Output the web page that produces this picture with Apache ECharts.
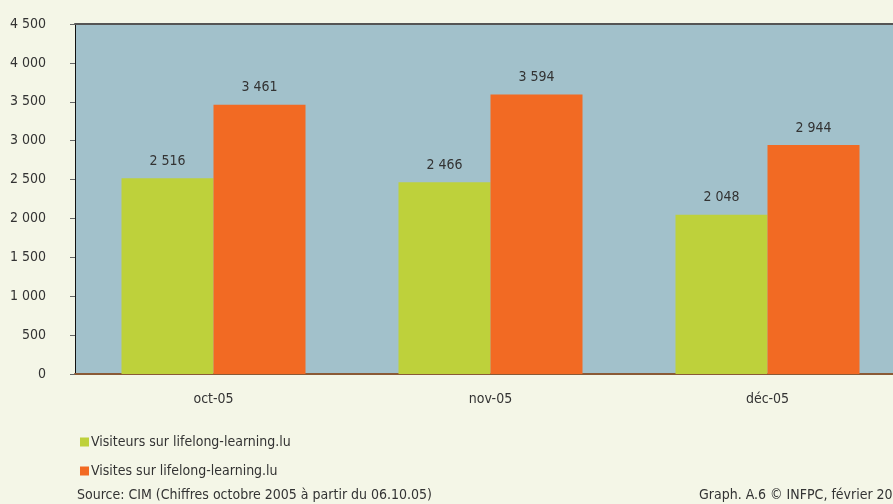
<!DOCTYPE html>
<html><head><meta charset="utf-8">
<script src="https://cdn.jsdelivr.net/npm/echarts@6/dist/echarts.min.js"></script>
<style>html,body{margin:0;padding:0;background:#f4f6e7;width:893px;height:504px;overflow:hidden;}#c{width:906px;height:504px;}</style>
</head><body><div id="c"></div>
<script>
const categories = ['oct-05', 'nov-05', 'déc-05'];
const visiteurs = [2516, 2466, 2048];
const visites = [3461, 3594, 2944];
const seriesNames = ['Visiteurs sur lifelong-learning.lu', 'Visites sur lifelong-learning.lu'];
const yTicks = [0, 500, 1000, 1500, 2000, 2500, 3000, 3500, 4000, 4500];
const sourceText = 'Source: CIM (Chiffres octobre 2005 à partir du 06.10.05)';
const creditText = 'Graph. A.6 © INFPC, février 2006';

const FONT = '"Liberation Sans Narrow", "DejaVu Sans Condensed", "Liberation Sans", sans-serif';
const fmt = v => String(v).replace(/\B(?=(\d{3})+(?!\d))/g, ' ');

const chart = echarts.init(document.getElementById('c'));
chart.setOption({
  backgroundColor: '#f4f6e7',
  animation: false,
  textStyle: { fontFamily: FONT },
  grid: { left: 75, top: 24, right: 0, bottom: 130, show: true, backgroundColor: '#a2c1cb', borderWidth: 0 },
  legend: {
    orient: 'vertical', left: 75, top: 430, itemGap: 15, itemWidth: 9, itemHeight: 9,
    icon: 'rect', textStyle: { fontFamily: FONT, fontSize: 14, color: '#333', padding: [0, 0, 0, -3] },
    data: seriesNames
  },
  xAxis: [{
    type: 'category', data: categories,
    axisLine: { lineStyle: { color: '#8a5a36', width: 2 } },
    axisTick: { show: false },
    axisLabel: { fontFamily: FONT, fontSize: 14, color: '#333', margin: 18 }
  }, {
    type: 'category', position: 'top', data: categories,
    axisLine: { lineStyle: { color: '#555', width: 2 } },
    axisTick: { show: false }, axisLabel: { show: false }
  }],
  yAxis: {
    type: 'value', min: yTicks[0], max: yTicks[yTicks.length - 1], interval: 500,
    axisLine: { show: true, lineStyle: { color: '#111', width: 1 } },
    axisTick: { show: true, length: 5, lineStyle: { color: '#666' } },
    splitLine: { show: false },
    axisLabel: { fontFamily: FONT, fontSize: 14, color: '#333', margin: 29, formatter: v => fmt(v) }
  },
  series: [{
    name: seriesNames[0], type: 'bar', data: visiteurs, barWidth: 92, barGap: '0%',
    itemStyle: { color: '#bed13b' },
    label: { show: true, position: 'top', distance: 10, fontFamily: FONT, fontSize: 14, color: '#333', formatter: p => fmt(p.value) }
  }, {
    name: seriesNames[1], type: 'bar', data: visites, barWidth: 92,
    itemStyle: { color: '#f26a23' },
    label: { show: true, position: 'top', distance: 10, fontFamily: FONT, fontSize: 14, color: '#333', formatter: p => fmt(p.value) }
  }],
  graphic: [
    { type: 'text', left: 77, top: 488, style: { text: sourceText, font: '14px ' + FONT, fill: '#333' } },
    { type: 'text', left: 699, top: 488, style: { text: creditText, font: '14px ' + FONT, fill: '#333' } }
  ]
});
</script></body></html>
